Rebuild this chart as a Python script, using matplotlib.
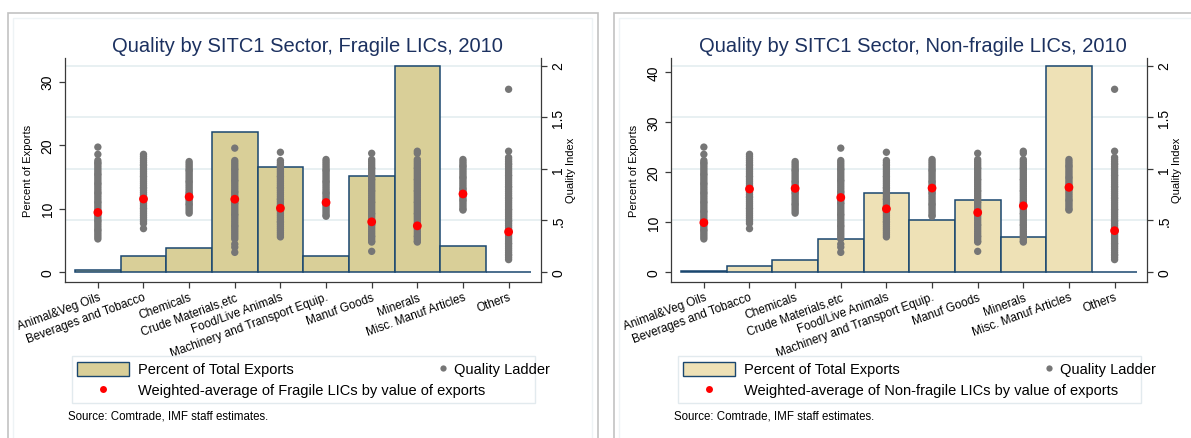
import matplotlib
matplotlib.use("Agg")
import matplotlib.pyplot as plt
from matplotlib.patches import Rectangle
from matplotlib.lines import Line2D

plt.rcParams['font.family'] = ['Liberation Sans', 'DejaVu Sans']

# Sectors (SITC1)
sectors = ['Animal&Veg Oils', 'Beverages and Tobacco', 'Chemicals', 'Crude Materials,etc',
           'Food/Live Animals', 'Machinery and Transport Equip.', 'Manuf Goods', 'Minerals',
           'Misc. Manuf Articles', 'Others']

# Percent of total exports
share_fragile = [0.3, 2.5, 3.7, 22.0, 16.5, 2.5, 15.1, 32.5, 4.1, 0.05]
share_nonfragile = [0.1, 1.2, 2.3, 6.6, 15.8, 10.5, 14.5, 7.0, 41.3, 0.05]

# Weighted-average quality index
wavg_fragile = [0.577, 0.707, 0.728, 0.705, 0.618, 0.673, 0.486, 0.447, 0.756, 0.389]
wavg_nonfragile = [0.478, 0.804, 0.810, 0.722, 0.612, 0.813, 0.576, 0.641, 0.820, 0.400]

# Quality ladder (country quality values per sector)
ladder_oils = [1.21, 1.14, 1.08, 1.06, 1.05, 1.03, 1.01, 0.99, 0.97, 0.95, 0.94, 0.92, 0.90,
               0.88, 0.86, 0.85, 0.83, 0.81, 0.79, 0.77, 0.76, 0.74, 0.72, 0.70, 0.68, 0.67,
               0.65, 0.63, 0.61, 0.59, 0.58, 0.56, 0.54, 0.52, 0.50, 0.49, 0.47, 0.45, 0.43,
               0.41, 0.40, 0.38, 0.36, 0.34, 0.32]
ladder_bev = [1.14, 1.12, 1.10, 1.08, 1.06, 1.04, 1.03, 1.01, 0.99, 0.97, 0.95, 0.93, 0.92,
              0.90, 0.88, 0.86, 0.84, 0.82, 0.81, 0.79, 0.77, 0.75, 0.73, 0.72, 0.70, 0.68,
              0.66, 0.64, 0.62, 0.61, 0.59, 0.57, 0.55, 0.53, 0.51, 0.49, 0.47, 0.42]
ladder_chem = [1.07, 1.05, 1.03, 1.01, 0.99, 0.98, 0.96, 0.94, 0.92, 0.90, 0.88, 0.87, 0.85,
               0.83, 0.81, 0.79, 0.77, 0.76, 0.74, 0.72, 0.70, 0.68, 0.66, 0.65, 0.63, 0.61,
               0.59, 0.57]
ladder_crude = [1.20, 1.08, 1.06, 1.04, 1.02, 1.00, 0.99, 0.97, 0.95, 0.93, 0.91, 0.89, 0.88,
                0.86, 0.84, 0.82, 0.80, 0.78, 0.77, 0.75, 0.73, 0.71, 0.69, 0.67, 0.66, 0.64,
                0.62, 0.60, 0.58, 0.56, 0.55, 0.53, 0.51, 0.49, 0.47, 0.45, 0.44, 0.42, 0.40,
                0.38, 0.36, 0.34, 0.32, 0.27, 0.24, 0.19]
ladder_food = [1.16, 1.08, 1.06, 1.04, 1.03, 1.01, 0.99, 0.97, 0.95, 0.93, 0.92, 0.90, 0.88,
               0.86, 0.84, 0.82, 0.81, 0.79, 0.77, 0.75, 0.73, 0.71, 0.70, 0.68, 0.66, 0.64,
               0.62, 0.60, 0.59, 0.57, 0.55, 0.53, 0.51, 0.49, 0.48, 0.46, 0.44, 0.42, 0.40,
               0.38, 0.36, 0.34]
ladder_mach = [1.09, 1.07, 1.05, 1.03, 1.01, 0.99, 0.98, 0.96, 0.94, 0.92, 0.90, 0.88, 0.87,
               0.85, 0.83, 0.81, 0.79, 0.77, 0.76, 0.74, 0.72, 0.70, 0.68, 0.66, 0.65, 0.63,
               0.61, 0.59, 0.57, 0.55, 0.54]
ladder_manuf = [1.15, 1.09, 1.07, 1.05, 1.03, 1.01, 1.00, 0.98, 0.96, 0.94, 0.92, 0.90, 0.89,
                0.87, 0.85, 0.83, 0.81, 0.79, 0.78, 0.76, 0.74, 0.72, 0.70, 0.68, 0.67, 0.65,
                0.63, 0.61, 0.59, 0.57, 0.56, 0.54, 0.52, 0.50, 0.48, 0.46, 0.45, 0.43, 0.41,
                0.39, 0.37, 0.35, 0.34, 0.32, 0.30, 0.29, 0.20]
ladder_min = [1.17, 1.15, 1.09, 1.07, 1.05, 1.03, 1.01, 1.00, 0.98, 0.96, 0.94, 0.92, 0.90,
              0.89, 0.87, 0.85, 0.83, 0.81, 0.79, 0.78, 0.76, 0.74, 0.72, 0.70, 0.68, 0.67,
              0.65, 0.63, 0.61, 0.59, 0.57, 0.56, 0.54, 0.52, 0.50, 0.48, 0.46, 0.45, 0.43,
              0.41, 0.39, 0.37, 0.35, 0.34, 0.32, 0.30, 0.29]
ladder_misc = [1.09, 1.07, 1.05, 1.03, 1.02, 1.00, 0.98, 0.96, 0.94, 0.92, 0.91, 0.89, 0.87,
               0.85, 0.83, 0.81, 0.80, 0.78, 0.76, 0.74, 0.72, 0.70, 0.69, 0.67, 0.65, 0.63,
               0.61, 0.60]
ladder_other = [1.77, 1.17, 1.11, 1.09, 1.07, 1.05, 1.04, 1.02, 1.00, 0.98, 0.96, 0.94, 0.93,
                0.91, 0.89, 0.87, 0.85, 0.83, 0.82, 0.80, 0.78, 0.76, 0.74, 0.72, 0.71, 0.69,
                0.67, 0.65, 0.63, 0.61, 0.60, 0.58, 0.56, 0.54, 0.52, 0.50, 0.49, 0.47, 0.45,
                0.43, 0.41, 0.39, 0.38, 0.36, 0.34, 0.32, 0.30, 0.28, 0.27, 0.25, 0.23, 0.21,
                0.19, 0.17, 0.16, 0.14, 0.12]
ladder = [ladder_oils, ladder_bev, ladder_chem, ladder_crude, ladder_food, ladder_mach,
          ladder_manuf, ladder_min, ladder_misc, ladder_other]

q_ticks = [0, 0.5, 1, 1.5, 2]
q_labels = ['0', '.5', '1', '1.5', '2']
q_lim = (-0.097, 2.078)

navy = '#1a476f'
gray = '#767676'
grid_c = '#e4edf0'
spine_c = '#3a3a3a'

W, H = 1191, 439
fig = plt.figure(figsize=(W / 100, H / 100), dpi=100)


def fx(x):
    return x / W


def fy(y):
    return 1 - y / H


def draw_panel(ox, title, shares, wavg, fill, ylim, yticks, group):
    # outer graph border
    fig.add_artist(Rectangle((fx(7.5 + ox), fy(460)), fx(590), fy(14) - fy(460),
                             transform=fig.transFigure, fill=False, ec='#c2c2c2', lw=1.2))
    fig.add_artist(Rectangle((fx(13 + ox), fy(460)), fx(579), fy(19) - fy(460),
                             transform=fig.transFigure, fill=False, ec='#eef3f5', lw=1.0))

    x0, x1, y0, y1 = 65 + ox, 541 + ox, 58.5, 283
    ax = fig.add_axes([fx(x0), fy(y1), fx(x1) - fx(x0), fy(y0) - fy(y1)])
    ax2 = ax.twinx()
    xs = list(range(len(sectors)))
    ax.set_xlim(-0.72, 9.71)
    ax.set_ylim(*ylim)
    ax2.set_ylim(*q_lim)

    # grid lines at quality ticks, below the bars
    for v in q_ticks[1:]:
        yl = ylim[0] + (v - q_lim[0]) / (q_lim[1] - q_lim[0]) * (ylim[1] - ylim[0])
        ax.axhline(yl, color=grid_c, lw=1.2, zorder=0)

    ax.bar(xs, shares, width=1.0, color=fill, edgecolor=navy, linewidth=1.1, zorder=2)
    for i, vals in enumerate(ladder):
        ax2.scatter([i] * len(vals), vals, s=28, color=gray, edgecolors='none', zorder=3)
    ax2.scatter(xs, wavg, s=40, color='red', edgecolors='none', zorder=4)

    for a in (ax, ax2):
        a.spines['top'].set_visible(False)
        for s in a.spines.values():
            s.set_color(spine_c)
            s.set_linewidth(0.9)
    ax.spines['right'].set_visible(False)
    ax2.spines['left'].set_visible(False)
    ax2.spines['bottom'].set_visible(False)

    ax.set_xticks(xs)
    ax.set_xticklabels(sectors, rotation=20, ha='right', va='top',
                       rotation_mode='anchor', fontsize=8.5)
    ax.set_yticks(yticks)
    ax.set_yticklabels([str(t) for t in yticks], rotation=90, va='center', fontsize=10)
    ax2.set_yticks(q_ticks)
    ax2.set_yticklabels(q_labels, rotation=90, va='center', fontsize=10)
    ax.tick_params(axis='x', length=4.5, width=0.9, color=spine_c, pad=2)
    ax.tick_params(axis='y', length=4.5, width=0.9, color=spine_c, pad=3)
    ax2.tick_params(axis='y', length=4.5, width=0.9, color=spine_c, pad=3)

    ax.set_ylabel('Percent of Exports', fontsize=8)
    ax.yaxis.set_label_coords(-0.068, 0.5)
    ax2.set_ylabel('Quality Index', fontsize=8)
    ax2.yaxis.set_label_coords(1.053, 0.5)

    fig.text(fx(307 + ox), fy(46), title, ha='center', va='center',
             fontsize=14.5, color='#1c3160')

    # legend
    fig.add_artist(Rectangle((fx(71.6 + ox), fy(404)), fx(463.4), fy(356.7) - fy(404),
                             transform=fig.transFigure, fc='white', ec='#e2eaee', lw=1.0))
    fig.add_artist(Rectangle((fx(77.3 + ox), fy(377.3)), fx(51.3), fy(362.5) - fy(377.3),
                             transform=fig.transFigure, fc=fill, ec=navy, lw=1.0))
    fig.text(fx(138.5 + ox), fy(370), 'Percent of Total Exports', ha='left', va='center',
             fontsize=10.5)
    fig.add_artist(Line2D([fx(443 + ox)], [fy(369)], marker='o', ms=4.5, color=gray,
                          mec='none', transform=fig.transFigure))
    fig.text(fx(454 + ox), fy(370), 'Quality Ladder', ha='left', va='center', fontsize=10.5)
    fig.add_artist(Line2D([fx(103 + ox)], [fy(390)], marker='o', ms=5, color='red',
                          mec='none', transform=fig.transFigure))
    fig.text(fx(138.5 + ox), fy(391),
             'Weighted-average of %s LICs by value of exports' % group,
             ha='left', va='center', fontsize=10.5)

    fig.text(fx(68 + ox), fy(417), 'Source: Comtrade, IMF staff estimates.',
             ha='left', va='center', fontsize=8.3)


draw_panel(0, 'Quality by SITC1 Sector, Fragile LICs, 2010', share_fragile, wavg_fragile,
           '#d9cf98', (-1.58, 33.8), [0, 10, 20, 30], 'Fragile')
draw_panel(606, 'Quality by SITC1 Sector, Non-fragile LICs, 2010', share_nonfragile,
           wavg_nonfragile, '#eee1b6', (-2.02, 43.0), [0, 10, 20, 30, 40], 'Non-fragile')

fig.savefig('out.png', dpi=100)
